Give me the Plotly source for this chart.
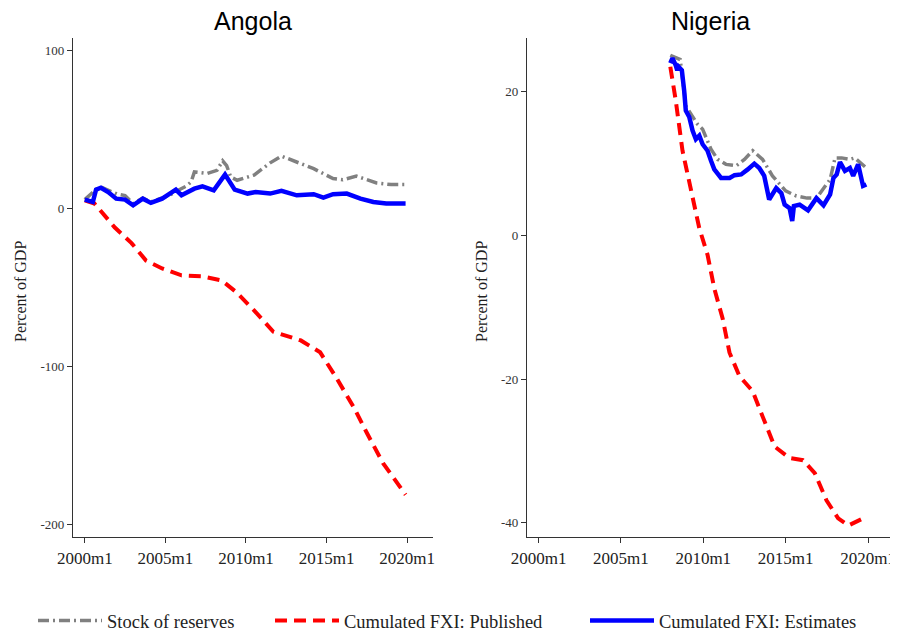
import plotly.graph_objects as go

# Angola (fractional years, percent of GDP)
ang_res_t = [2000.0, 2000.7, 2001.0, 2001.5, 2002.0, 2002.5, 2003.0, 2003.6, 2004.1, 2004.8,
             2005.4, 2005.8, 2006.3, 2006.6, 2006.8, 2007.6, 2008.2, 2008.55, 2008.8, 2009.05,
             2009.45, 2010.5, 2011.5, 2012.2, 2012.95, 2014.2, 2015.4, 2016.0, 2016.85, 2018.1,
             2019.0, 2019.9]
ang_res_v = [5.5, 12, 13.5, 11, 9, 8, 3, 6.5, 4, 6.5,
             9, 11.4, 14, 16.7, 23, 22, 24, 30, 27, 19.8,
             17.7, 21, 28.7, 33, 30, 25, 18.8, 18, 20.3, 16,
             15, 15]

ang_pub_t = [2000.0, 2000.6, 2001.85, 2002.9, 2003.8, 2004.8, 2006.0, 2007.3, 2008.5, 2009.4,
             2010.5, 2011.7, 2013.4, 2014.6, 2015.6, 2016.7, 2017.5, 2018.5, 2019.9]
ang_pub_v = [5, 3, -12, -22, -33, -38, -42.4, -43, -45.6, -53,
             -64.5, -78, -83.5, -91, -107, -126, -142, -161, -181]

ang_est_t = [2000.0, 2000.5, 2000.7, 2001.0, 2001.45, 2001.95, 2002.5, 2003.0, 2003.6, 2004.1,
             2004.8, 2005.65, 2006.0, 2006.8, 2007.3, 2008.0, 2008.7, 2009.3, 2010.1, 2010.6,
             2011.5, 2012.2, 2013.15, 2014.2, 2014.8, 2015.4, 2016.25, 2017.1, 2017.9, 2018.7,
             2019.9]
ang_est_v = [5.5, 4, 11.8, 13, 10.3, 6.1, 5.5, 1.9, 6.1, 3.4,
             6.1, 11.8, 8.2, 12.4, 13.9, 11.4, 21.3, 11.8, 9.3, 10.3,
             9.3, 11, 8.2, 8.9, 6.8, 8.9, 9.3, 6.1, 4, 3,
             3]

# Nigeria
nga_res_t = [2008.0, 2008.6, 2008.95, 2009.65, 2009.96, 2010.47, 2010.87, 2011.38, 2012.0, 2012.5,
             2013.0, 2013.6, 2014.2, 2015.0, 2015.65, 2016.3, 2016.87, 2017.3, 2017.7, 2018.0,
             2018.4, 2018.9, 2019.2, 2019.9]
nga_res_v = [25.1, 24.5, 18, 15.5, 14.8, 12, 10.6, 9.9, 9.7, 10.6,
             11.8, 10.6, 8.3, 6.2, 5.5, 5.2, 5.2, 6.6, 7.8, 10.8,
             10.8, 10.6, 10.8, 9.4]

nga_pub_t = [2008.0, 2008.33, 2008.74, 2009.35, 2009.76, 2010.26, 2010.67, 2011.18, 2011.59, 2012.2,
             2013.0, 2013.6, 2014.33, 2015.24, 2016.05, 2016.77, 2017.48, 2018.19, 2018.8, 2019.9]
nga_pub_v = [23.5, 18.8, 11.8, 5.7, 1.0, -2.7, -7.4, -11.6, -16.3, -19.6,
             -21.7, -25.2, -29.4, -31, -31.3, -33.1, -36.9, -39.4, -40.4, -39.2]

nga_est_t = [2008.0, 2008.13, 2008.33, 2008.42, 2008.5, 2008.7, 2008.84, 2008.94, 2009.15, 2009.35,
             2009.55, 2009.76, 2009.96, 2010.26, 2010.47, 2010.67, 2011.08, 2011.6, 2011.9, 2012.3,
             2012.7, 2013.1, 2013.4, 2013.7, 2014.0, 2014.43, 2014.74, 2014.94, 2015.24, 2015.4,
             2015.5, 2015.85, 2016.36, 2016.87, 2017.3, 2017.7, 2017.9, 2018.1, 2018.3, 2018.6,
             2018.9, 2019.1, 2019.4, 2019.7, 2019.9]
nga_est_v = [24, 24.7, 23.7, 23, 23.5, 23, 20.2, 17.4, 16.5, 14.6,
             13.4, 13.9, 12.7, 11.8, 10.4, 9.2, 8.0, 8.0, 8.4, 8.5,
             9.2, 10.0, 9.4, 8.3, 5.0, 6.6, 5.9, 4.3, 3.8, 2.0,
             4.1, 4.3, 3.5, 5.2, 4.2, 5.7, 8.0, 8.5, 10.2, 9.0,
             9.4, 8.3, 9.9, 6.9, 7.1]

x_tickvals = [2000, 2005, 2010, 2015, 2020]
x_ticktext = ["2000m1", "2005m1", "2010m1", "2015m1", "2020m1"]

SERIF = "Liberation Serif"
# page has an 8px body margin, so the figure is drawn a bit smaller and offset
OFF = 8
W, H = 898 - OFF, 635 - OFF


def px(x):
    return (x - OFF) / W


def py(y):
    return 1 - (y - OFF) / H


GRAY = dict(color="#808080", width=3.5, dash="11px,4px,2px,4px")
RED = dict(color="#ff0000", width=4, dash="12px,7px")
BLUE = dict(color="#0000ff", width=4.5)

fig = go.Figure()

# Angola
fig.add_trace(go.Scatter(x=ang_res_t, y=ang_res_v, mode="lines", line=GRAY,
                         name="Stock of reserves", legend="legend", xaxis="x", yaxis="y"))
fig.add_trace(go.Scatter(x=ang_pub_t, y=ang_pub_v, mode="lines", line=RED,
                         name="Cumulated FXI: Published", legend="legend2", xaxis="x", yaxis="y"))
fig.add_trace(go.Scatter(x=ang_est_t, y=ang_est_v, mode="lines", line=BLUE,
                         name="Cumulated FXI: Estimates", legend="legend3", xaxis="x", yaxis="y"))

# Nigeria
fig.add_trace(go.Scatter(x=nga_res_t, y=nga_res_v, mode="lines", line=GRAY,
                         showlegend=False, xaxis="x2", yaxis="y2"))
fig.add_trace(go.Scatter(x=nga_pub_t, y=nga_pub_v, mode="lines", line=RED,
                         showlegend=False, xaxis="x2", yaxis="y2"))
fig.add_trace(go.Scatter(x=nga_est_t, y=nga_est_v, mode="lines", line=BLUE,
                         showlegend=False, xaxis="x2", yaxis="y2"))

y_dom = [py(537), py(38)]

xax = dict(tickvals=x_tickvals, ticktext=x_ticktext, ticks="outside", ticklen=5,
           tickcolor="#333", showline=True, linecolor="#333", linewidth=1.2, automargin=False,
           showgrid=False, zeroline=False, tickfont=dict(family=SERIF, size=17, color="#222"))
yax = dict(ticks="outside", ticklen=5, tickcolor="#333", showline=True, linecolor="#333",
           linewidth=1.2, showgrid=False, zeroline=False, domain=y_dom, automargin=False,
           tickfont=dict(family=SERIF, size=13, color="#333"))

leg = dict(orientation="h", yanchor="middle", y=py(621), xanchor="left",
           itemwidth=64, font=dict(family=SERIF, size=18.5, color="#222"),
           bgcolor="rgba(0,0,0,0)", borderwidth=0)

fig.update_layout(
    width=W, height=H,
    margin=dict(l=0, r=0, t=0, b=0, autoexpand=False),
    paper_bgcolor="white", plot_bgcolor="white",
    showlegend=True,
    xaxis=dict(xax, domain=[px(73), px(433)], range=[1999.27, 2021.6], anchor="y"),
    yaxis=dict(yax, range=[-207.7, 107.6], tickvals=[-200, -100, 0, 100],
               ticktext=["-200", "-100", "0", "100"], anchor="x"),
    xaxis2=dict(xax, domain=[px(527), px(896)], range=[1999.3, 2021.7], anchor="y2"),
    yaxis2=dict(yax, range=[-42, 27.5], tickvals=[-40, -20, 0, 20],
                ticktext=["-40", "-20", "0", "20"], anchor="x2"),
    legend=dict(leg, x=px(33)),
    legend2=dict(leg, x=px(270)),
    legend3=dict(leg, x=px(585)),
    annotations=[
        dict(text="Angola", x=px(253), y=py(21), xref="paper", yref="paper",
             xanchor="center", yanchor="middle", showarrow=False,
             font=dict(family="Liberation Sans", size=25, color="black")),
        dict(text="Nigeria", x=px(710), y=py(21), xref="paper", yref="paper",
             xanchor="center", yanchor="middle", showarrow=False,
             font=dict(family="Liberation Sans", size=25, color="black")),
        dict(text="Percent of GDP", x=px(20), y=py(292), xref="paper", yref="paper",
             xanchor="center", yanchor="middle", textangle=-90, showarrow=False,
             font=dict(family=SERIF, size=16, color="#222")),
        dict(text="Percent of GDP", x=px(481), y=py(292), xref="paper", yref="paper",
             xanchor="center", yanchor="middle", textangle=-90, showarrow=False,
             font=dict(family=SERIF, size=16, color="#222")),
    ],
)

fig.write_html("out.html")
